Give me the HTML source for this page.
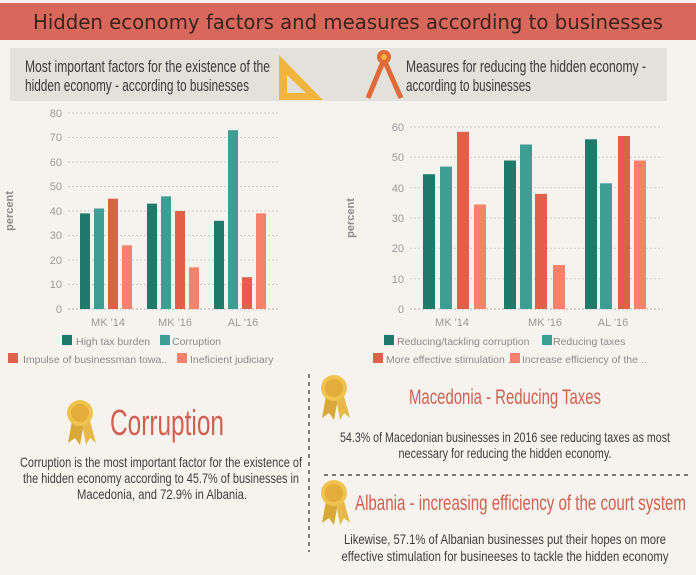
<!DOCTYPE html>
<html><head><meta charset="utf-8"><style>
html,body{margin:0;padding:0;background:#f6f3ee;}
svg{display:block}
text{font-family:"Liberation Sans Narrow","Liberation Sans",sans-serif;}
.ax{font-family:"Liberation Sans",sans-serif;font-size:11px;fill:#9a9a9a}
.lg{font-family:"Liberation Sans",sans-serif;font-size:10.5px;fill:#8a8a8a}
.g{stroke:#d0cdc8;stroke-width:1;stroke-dasharray:2,2}
</style></head><body>
<svg width="696" height="575" viewBox="0 0 696 575" xmlns="http://www.w3.org/2000/svg">
<defs>
<g id="medal">
<polygon points="-8,8 -12,30 -5,25 0,32 4,10" fill="#d9a83a"/>
<polygon points="2,10 6,32 10,25 16,30 10,8" fill="#e8b94a"/>
<circle cx="0" cy="0" r="13" fill="#f0c24e"/><circle cx="0" cy="0" r="9" fill="#e2ad3a"/>
</g>
</defs>
<rect width="696" height="575" fill="#f6f3ee"/>
<rect x="0" y="3" width="696" height="37" fill="#d9685c"/>
<text x="348" y="29" text-anchor="middle" style="font-family:'DejaVu Sans',sans-serif;font-size:20px;fill:#3a2420" textLength="630" lengthAdjust="spacingAndGlyphs">Hidden economy factors and measures according to businesses</text>
<rect x="10" y="48" width="657" height="53" fill="#e3e1dc"/>
<text x="25" y="72" style="font-size:17px;fill:#3a3a3a" textLength="245" lengthAdjust="spacingAndGlyphs">Most important factors for the existence of the</text>
<text x="25" y="91" style="font-size:17px;fill:#3a3a3a" textLength="224" lengthAdjust="spacingAndGlyphs">hidden economy - according to businesses</text>
<polygon points="279,55 279,100 323,100" fill="#f2b43c"/>
<polygon points="287,75 287,93 306,93" fill="#e3e1dc"/>
<text x="406" y="72" style="font-size:17px;fill:#3a3a3a" textLength="240" lengthAdjust="spacingAndGlyphs">Measures for reducing the hidden economy -</text>
<text x="406" y="91" style="font-size:17px;fill:#3a3a3a" textLength="125" lengthAdjust="spacingAndGlyphs">according to businesses</text>
<line x1="383" y1="62" x2="368" y2="98" stroke="#e06a3a" stroke-width="5"/>
<line x1="385" y1="62" x2="401" y2="98" stroke="#e06a3a" stroke-width="5"/>
<circle cx="384" cy="57" r="7" fill="#e06a3a"/><circle cx="384" cy="57" r="3" fill="#f2b43c"/>

<!-- left chart -->
<g>
<line class="g" x1="68" x2="280" y1="113" y2="113"/><line class="g" x1="68" x2="280" y1="137.5" y2="137.5"/>
<line class="g" x1="68" x2="280" y1="162" y2="162"/><line class="g" x1="68" x2="280" y1="186.5" y2="186.5"/>
<line class="g" x1="68" x2="280" y1="211" y2="211"/><line class="g" x1="68" x2="280" y1="235.5" y2="235.5"/>
<line class="g" x1="68" x2="280" y1="260" y2="260"/><line class="g" x1="68" x2="280" y1="284.5" y2="284.5"/>
<line class="g" x1="68" x2="280" y1="309" y2="309" style="stroke:#b5b2ad"/>
<g class="ax" text-anchor="end">
<text x="62" y="117">80</text><text x="62" y="141">70</text><text x="62" y="166">60</text><text x="62" y="190">50</text>
<text x="62" y="215">40</text><text x="62" y="239">30</text><text x="62" y="264">20</text><text x="62" y="288">10</text><text x="62" y="313">0</text>
</g>
<text transform="translate(13,211) rotate(-90)" text-anchor="middle" style="font-family:'Liberation Sans',sans-serif;font-size:11px;font-weight:bold;fill:#8a8a8a">percent</text>
<rect x="80" y="213.4" width="10" height="95.6" fill="#1f7a6c"/>
<rect x="94" y="208.5" width="10" height="100.5" fill="#3f9e94"/>
<rect x="108" y="198.7" width="10" height="110.3" fill="#e0604a"/>
<rect x="122" y="245.3" width="10" height="63.7" fill="#f5826a"/>
<rect x="147" y="203.6" width="10" height="105.4" fill="#1f7a6c"/>
<rect x="161" y="196.3" width="10" height="112.7" fill="#3f9e94"/>
<rect x="175" y="211" width="10" height="98" fill="#e0604a"/>
<rect x="189" y="267.3" width="10" height="41.7" fill="#f5826a"/>
<rect x="214" y="220.8" width="10" height="88.2" fill="#1f7a6c"/>
<rect x="228" y="130.2" width="10" height="178.8" fill="#3f9e94"/>
<rect x="242" y="277.2" width="10" height="31.8" fill="#e0604a"/>
<rect x="256" y="213.4" width="10" height="95.6" fill="#f5826a"/>
<g class="ax" text-anchor="middle"><text x="108" y="326">MK '14</text><text x="175" y="326">MK '16</text><text x="243" y="326">AL '16</text></g>
<rect x="62" y="335" width="10" height="10" fill="#1f7a6c"/><text class="lg" x="76" y="345">High tax burden</text>
<rect x="160" y="335" width="10" height="10" fill="#3f9e94"/><text class="lg" x="172" y="345">Corruption</text>
<rect x="8" y="353" width="10" height="10" fill="#e0604a"/><text class="lg" x="23" y="363">Impulse of businessman towa..</text>
<rect x="177" y="353" width="10" height="10" fill="#f5826a"/><text class="lg" x="190" y="363">Ineficient judiciary</text>
</g>

<!-- right chart -->
<g>
<line class="g" x1="410" x2="663" y1="127" y2="127"/><line class="g" x1="410" x2="663" y1="157.3" y2="157.3"/>
<line class="g" x1="410" x2="663" y1="187.7" y2="187.7"/><line class="g" x1="410" x2="663" y1="218" y2="218"/>
<line class="g" x1="410" x2="663" y1="248.3" y2="248.3"/><line class="g" x1="410" x2="663" y1="278.7" y2="278.7"/>
<line class="g" x1="410" x2="663" y1="309" y2="309" style="stroke:#b5b2ad"/>
<g class="ax" text-anchor="end">
<text x="404" y="131">60</text><text x="404" y="161">50</text><text x="404" y="192">40</text><text x="404" y="222">30</text>
<text x="404" y="252">20</text><text x="404" y="283">10</text><text x="404" y="313">0</text>
</g>
<text transform="translate(354,218) rotate(-90)" text-anchor="middle" style="font-family:'Liberation Sans',sans-serif;font-size:11px;font-weight:bold;fill:#8a8a8a">percent</text>
<rect x="423" y="174.2" width="12" height="134.8" fill="#1f7a6c"/>
<rect x="440" y="166.6" width="12" height="142.4" fill="#3f9e94"/>
<rect x="457" y="131.8" width="12" height="177.2" fill="#e0604a"/>
<rect x="474" y="204.5" width="12" height="104.5" fill="#f5826a"/>
<rect x="504" y="160.5" width="12" height="148.5" fill="#1f7a6c"/>
<rect x="520" y="144.5" width="12" height="164.5" fill="#3f9e94"/>
<rect x="535" y="193.9" width="12" height="115.1" fill="#e0604a"/>
<rect x="553" y="265" width="12" height="44" fill="#f5826a"/>
<rect x="585" y="139.3" width="12" height="169.7" fill="#1f7a6c"/>
<rect x="600" y="183.3" width="12" height="125.7" fill="#3f9e94"/>
<rect x="618" y="136" width="12" height="173" fill="#e0604a"/>
<rect x="634" y="160.5" width="12" height="148.5" fill="#f5826a"/>
<g class="ax" text-anchor="middle"><text x="452" y="326">MK '14</text><text x="545" y="326">MK '16</text><text x="613" y="326">AL '16</text></g>
<rect x="384" y="335" width="10" height="10" fill="#1f7a6c"/><text class="lg" x="397" y="345">Reducing/tackling corruption</text>
<rect x="542" y="335" width="10" height="10" fill="#3f9e94"/><text class="lg" x="553" y="345">Reducing taxes</text>
<rect x="373" y="353" width="10" height="10" fill="#e0604a"/><text class="lg" x="386" y="363">More effective stimulation ..</text>
<rect x="510" y="353" width="10" height="10" fill="#f5826a"/><text class="lg" x="522" y="363">Increase efficiency of the ..</text>
</g>

<!-- bottom -->
<line x1="309" y1="374" x2="309" y2="552" stroke="#555" stroke-width="1.5" stroke-dasharray="4,4"/>
<line x1="324" y1="475" x2="688" y2="475" stroke="#555" stroke-width="1.5" stroke-dasharray="4,4"/>
<use href="#medal" x="80" y="413"/>
<use href="#medal" x="334" y="388"/>
<use href="#medal" x="334" y="493"/>
<text x="110" y="435" style="font-size:36px;fill:#d06050" textLength="114" lengthAdjust="spacingAndGlyphs">Corruption</text>
<g style="font-size:14px;fill:#3e3e3e" text-anchor="middle">
<text x="161" y="467" textLength="282" lengthAdjust="spacingAndGlyphs">Corruption is the most important factor for the existence of</text>
<text x="161" y="483" textLength="276" lengthAdjust="spacingAndGlyphs">the hidden economy according to 45.7% of businesses in</text>
<text x="162" y="499" textLength="170" lengthAdjust="spacingAndGlyphs">Macedonia, and 72.9% in Albania.</text>
</g>
<text x="505" y="404" text-anchor="middle" style="font-size:21px;fill:#d06050" textLength="192" lengthAdjust="spacingAndGlyphs">Macedonia - Reducing Taxes</text>
<g style="font-size:14px;fill:#3e3e3e" text-anchor="middle">
<text x="505" y="442" textLength="330" lengthAdjust="spacingAndGlyphs">54.3% of Macedonian businesses in 2016 see reducing taxes as most</text>
<text x="505" y="458" textLength="213" lengthAdjust="spacingAndGlyphs">necessary for reducing the hidden economy.</text>
</g>
<text x="355" y="510" style="font-size:21px;fill:#d06050" textLength="331" lengthAdjust="spacingAndGlyphs">Albania - increasing efficiency of the court system</text>
<g style="font-size:14px;fill:#3e3e3e" text-anchor="middle">
<text x="505" y="544" textLength="322" lengthAdjust="spacingAndGlyphs">Likewise, 57.1% of Albanian businesses put their hopes on more</text>
<text x="505" y="561" textLength="327" lengthAdjust="spacingAndGlyphs">effective stimulation for busineeses to tackle the hidden economy</text>
</g>
</svg>
</body></html>
